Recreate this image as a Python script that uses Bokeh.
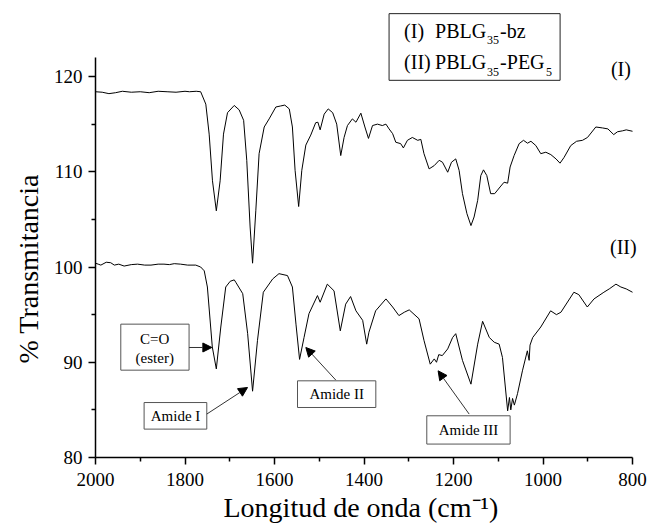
from bokeh.plotting import figure
from bokeh.models import (Range1d, FixedTicker, Label, BoxAnnotation, Arrow, NormalHead, Title)
from bokeh.embed import file_html
from bokeh.resources import INLINE

# ---------------- data ----------------
wn_I = [2000, 1985, 1970, 1955, 1940, 1920, 1900, 1880, 1860, 1840, 1820, 1800, 1790, 1775, 1765,
        1753.5, 1746, 1738.6, 1730, 1721.5, 1714, 1705, 1690, 1679, 1669, 1662, 1654.5, 1649,
        1641.8, 1634.4, 1623, 1612, 1597, 1587, 1577, 1567, 1560, 1554, 1546, 1539, 1530, 1519,
        1508, 1503, 1498, 1489, 1480, 1470, 1461, 1452, 1444.5, 1437, 1426, 1418, 1407, 1398,
        1390, 1381, 1370, 1359, 1351, 1344, 1336, 1329, 1318, 1312, 1303, 1292, 1280, 1273, 1266,
        1254.5, 1243, 1232, 1224.6, 1213, 1204.5, 1195, 1187.5, 1180, 1170, 1161, 1154, 1146,
        1139, 1133, 1125.6, 1117, 1108, 1096, 1087, 1079, 1073.5, 1064.6, 1053.4, 1043.6, 1034.6,
        1027, 1016, 1005, 993.7, 982.5, 971, 962, 953, 938, 925, 911.8, 900.6, 882, 867, 855, 842,
        833.5, 822, 814, 800]
t_I = [118.4, 118.35, 118.2, 118.3, 118.45, 118.35, 118.4, 118.3, 118.45, 118.4, 118.35, 118.45, 118.4, 118.45, 118.4,
       117.1, 113.95, 109.05, 105.9, 109.05, 113.95, 116.2, 116.96, 116.5, 115.4, 111.2, 104.2, 100.4,
       105.9, 111.9, 114.7, 115.55, 116.8, 116.9, 117.0, 116.6, 114.7, 110.15, 106.35, 110.15, 112.8, 113.85,
       115.15, 115.2, 114.4, 116.05, 116.6, 116.2, 115.0, 111.7, 113.6, 114.85, 115.55, 115.2, 116.15, 114.7,
       113.5, 114.85, 115.0, 114.85, 115.0, 114.5, 114.0, 113.1, 112.95, 112.5, 113.3, 113.6, 113.3, 113.4, 111.9,
       110.3, 110.65, 111.2, 111.0, 109.95, 111.0, 111.35, 110.15, 107.7, 105.6, 104.35, 105.25, 107.0,
       109.6, 110.2, 109.6, 107.7, 107.7, 108.4, 108.9, 108.8, 110.5, 111.7, 112.95, 113.3, 113.0,
       113.2, 112.75, 111.9, 112.05, 111.8, 111.35, 110.9, 111.5, 112.75, 113.2, 113.3, 113.6, 114.7, 114.6, 114.5, 113.9,
       114.2, 114.3, 114.4, 114.25]

wn_II = [2000, 1994, 1988, 1976, 1966, 1958, 1948, 1936, 1920, 1906, 1890, 1876, 1860, 1847, 1835, 1824,
         1810, 1794, 1776, 1765, 1757, 1750, 1739, 1730, 1720, 1709, 1699, 1690, 1686.5, 1671, 1660,
         1649, 1638, 1625, 1604, 1590, 1571, 1560, 1552, 1544, 1534, 1523, 1504, 1498, 1482, 1467,
         1453, 1441, 1430, 1418, 1403, 1394, 1389, 1374, 1351, 1336, 1322, 1310, 1299, 1277, 1266,
         1252, 1243, 1238, 1233, 1225, 1213, 1202, 1195, 1180, 1161, 1146, 1135, 1120, 1109, 1098,
         1090.6, 1079, 1075, 1072, 1068, 1064, 1057, 1046, 1035, 1031, 1029, 1023, 1005, 983, 970,
         960, 931, 920, 901, 886, 864, 852, 837, 826, 814, 800]
t_II = [100.4, 100.3, 100.2, 100.5, 100.45, 100.2, 100.3, 100.1, 100.25, 100.3, 100.2, 100.2, 100.3, 100.3, 100.25, 100.35,
        100.3, 100.2, 100.2, 100.0, 99.6, 97.9, 91.6, 89.3, 93.7, 97.9, 98.5, 98.65, 98.4, 97.2, 93.0,
        86.96, 92.3, 97.35, 98.75, 99.3, 99.1, 97.9, 94.0, 90.3, 92.6, 95.1, 97.0, 96.3, 98.2, 97.5,
        93.3, 96.1, 96.9, 95.4, 94.4, 91.9, 93.15, 95.4, 96.65, 95.8, 94.9, 95.25, 95.5, 94.56, 92.3,
        89.8, 90.35, 90.0, 90.8, 90.7, 91.4, 92.6, 93.0, 90.2, 87.7, 91.9, 94.3, 92.6, 92.1, 91.9,
        90.5, 84.9, 86.3, 85.0, 86.2, 85.5, 86.7, 89.1, 91.2, 90.2, 91.8, 92.6, 93.7, 95.4, 95.0,
        95.25, 97.35, 97.1, 95.8, 96.65, 97.35, 97.7, 98.2, 97.9, 97.7, 97.35]

x_ticks = [2000, 1800, 1600, 1400, 1200, 1000, 800]
x_minor = [1900, 1700, 1500, 1300, 1100, 900]
y_ticks = [80, 90, 100, 110, 120]
y_minor = [85, 95, 105, 115]

x_title = "Longitud de onda (cm\u207b\u00b9)"
y_title = "% Transmitancia"

SERIF = "Liberation Serif"

p = figure(output_backend="svg", toolbar_location=None,
           frame_width=555, frame_height=457,
           min_border_left=95, min_border_right=0, min_border_top=0, min_border_bottom=67,
           x_range=Range1d(2000, 759.8), y_range=Range1d(80, 127.98))
p.outline_line_color = None
p.grid.visible = False
p.background_fill_color = "white"

p.line(wn_I, t_I, line_color="black", line_width=1)
p.line(wn_II, t_II, line_color="black", line_width=1)

for ax in (p.xaxis[0], p.yaxis[0]):
    ax.axis_line_width = 1.5
    ax.axis_line_color = "black"
    ax.major_tick_line_width = 1.5
    ax.minor_tick_line_width = 1.5
    ax.major_tick_out = 7
    ax.major_tick_in = 0
    ax.minor_tick_out = 4
    ax.minor_tick_in = 0
    ax.major_label_text_font = SERIF
    ax.major_label_text_font_size = "19px"
    ax.major_label_text_color = "black"

p.xaxis.ticker = FixedTicker(ticks=x_ticks, minor_ticks=x_minor)
p.yaxis.ticker = FixedTicker(ticks=y_ticks, minor_ticks=y_minor)
p.yaxis.bounds = (80, 122)
p.xaxis.bounds = (800, 2000)
p.xaxis.major_label_standoff = 8
p.yaxis.major_label_standoff = 6

p.add_layout(Title(text=x_title, text_font=SERIF, text_font_size="28px",
                   text_font_style="normal", text_color="black", align="left",
                   offset=128, standoff=2), "below")
p.add_layout(Title(text=y_title, text_font=SERIF, text_font_size="28px",
                   text_font_style="normal", text_color="black", align="left",
                   offset=94, standoff=14), "left")

# ---------------- legend box ----------------
p.add_layout(BoxAnnotation(left=1344, right=961.8, top=126.6, bottom=119.6,
                           fill_color="white", fill_alpha=1, line_color="#222",
                           line_alpha=1, line_width=1))

def lab(x, y, text, size="20px", align="left", xoff=0):
    p.add_layout(Label(x=x, y=y, text=text, text_font=SERIF, text_font_size=size,
                       text_align=align, text_baseline="middle", x_offset=xoff,
                       text_color="black"))

LX = 1310.4
lab(LX, 124.75, "(I)")
lab(LX, 124.75, "PBLG", xoff=31)
lab(LX, 123.85, "35", size="12px", xoff=83)
lab(LX, 124.75, "-bz", xoff=96)
lab(LX, 121.49, "(II)")
lab(LX, 121.49, "PBLG", xoff=31)
lab(LX, 120.52, "35", size="12px", xoff=83)
lab(LX, 121.49, "-PEG", xoff=96)
lab(LX, 120.52, "5", size="12px", xoff=142)

lab(826, 120.84, "(I)", align="center")
lab(820.6, 102.15, "(II)", align="center")

# ---------------- annotation boxes & arrows ----------------
def box(l, r, t, b):
    p.add_layout(BoxAnnotation(left=l, right=r, top=t, bottom=b, fill_color="white",
                               fill_alpha=1, line_color="#555", line_alpha=1, line_width=1))

def arrow(x0, y0, x1, y1):
    p.add_layout(Arrow(end=NormalHead(size=9, fill_color="black", line_color="black"),
                       x_start=x0, y_start=y0, x_end=x1, y_end=y1,
                       line_color="#333", line_width=1))

box(1943.5, 1790.9, 94.0, 89.17)
lab(1867.6, 92.46, "C=O", size="15px", align="center")
lab(1867.6, 90.47, "(ester)", size="15px", align="center")
arrow(1790.9, 91.55, 1740, 91.55)

box(1891.4, 1751.3, 85.77, 82.98)
lab(1821.2, 84.38, "Amide I", size="15px", align="center")
arrow(1751.3, 84.56, 1660.3, 87.35)

box(1548.6, 1373.6, 88.05, 85.25)
lab(1461, 86.64, "Amide II", size="15px", align="center")
arrow(1463, 88.13, 1530, 91.55)

box(1259.7, 1073.5, 84.38, 81.41)
lab(1166.5, 82.91, "Amide III", size="15px", align="center")
arrow(1165, 84.56, 1234.4, 89.1)

open("out.html", "w").write(file_html(p, INLINE))
